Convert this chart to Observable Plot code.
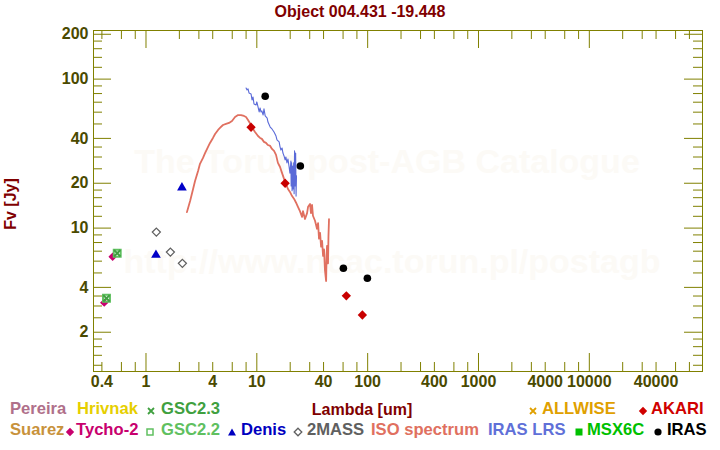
<!DOCTYPE html>
<html><head><meta charset="utf-8">
<script src="https://cdn.jsdelivr.net/npm/d3@7"></script>
<script src="https://cdn.jsdelivr.net/npm/@observablehq/plot@0.6"></script>
<style>
body{margin:0;background:#fff;font-family:"Liberation Sans",Arial,sans-serif;}
#wrap{position:relative;width:720px;height:450px;overflow:hidden;background:#fff}
#title{height:24px;line-height:24px;text-align:center;font-weight:bold;font-size:16px;color:#800000}
.lg{position:absolute;font-weight:bold;font-size:16.6px;white-space:nowrap;line-height:20px}
.ls{position:absolute;width:10px;height:10px}
</style></head><body>
<div id="wrap"><div id="title">Object 004.431 -19.448</div><div id="chart"></div><div id="legend"></div></div>
<script>
// ---- data (wavelength in um, flux in Jy) ----
const isoLambda = [2.34,2.50,2.66,2.77,2.95,3.07,3.27,3.41,3.63,3.78,4.02,4.20,4.47,4.65,4.95,5.27,5.61,5.97,6.36,6.77,7.20,7.66,7.99,8.33,8.87,9.24,9.63,10.25,10.7,11.1,11.6,12.1,12.6,13.2,13.7,14.3,14.9,15.5,16.2,16.9,17.6,18.3,19.1,19.9,20.8,21.7,22.6,23.5,24.5,25.6,26.1,27.2,28.4,29.0,30.2,30.8,31.5,32.1,33.5,34.9,35.7,36.4,37.2,38.0,38.8,39.6,40.4,41.2,42.2,42.6,43.0,43.9,44.3,44.8];
const isoFlux = [12.8,15.2,18.3,20.7,24.2,27.0,29.6,31.9,35.1,37.3,40.3,42.8,45.6,47.0,49.2,50.0,50.8,52.4,55.7,57.4,57.4,56.6,55.7,53.2,49.2,46.3,44.2,41.5,40.3,39.7,37.9,37.3,36.1,35.6,34.0,33.0,31.0,27.4,25.7,23.4,21.4,19.8,18.3,17.5,16.4,15.7,14.8,13.9,13.0,11.9,13.0,11.5,12.6,13.9,14.5,12.6,14.3,12.1,11.2,9.9,10.8,8.5,9.3,7.5,8.2,6.5,7.2,5.2,4.4,6.5,7.6,5.8,8.8,11.5];
const lrsLambda = [8.0,8.16,8.33,8.5,8.87,9.05,9.24,9.43,9.84,10.0,10.25,10.5,10.7,10.9,11.1,11.4,11.6,11.9,12.4,12.6,13.2,13.7,14.3,14.9,15.2,15.9,16.2,16.5,16.9,17.2,17.6,18.0,18.3,18.7,19.1,19.5,19.9,20.3,20.4,20.6,20.8,21.0,21.2,21.5,21.7,21.9,22.1,22.4,22.6,22.8];
const lrsFlux = [87.2,84.6,85.9,80.7,79.5,72.4,75.9,68.1,67.1,70.3,65.1,60.2,64.0,60.2,61.1,57.4,63.1,56.6,54.8,51.5,47.7,46.3,44.2,41.5,39.1,37.9,35.1,33.4,34.5,31.9,30.5,28.7,30.0,27.4,29.1,26.1,23.4,28.2,19.2,27.4,17.8,26.1,18.3,27.4,17.0,33.0,19.2,31.9,16.4,22.4];
const tychoLambda = [0.42,0.50], tychoFlux = [3.16,6.43];
const gsc22Lambda = [0.44,0.55], gsc22Flux = [3.38,6.78];
const gsc23Lambda = [0.44,0.55], gsc23Flux = [3.38,6.78];
const denisLambda = [1.23,2.11], denisFlux = [6.6,18.7];
const twomassLambda = [1.24,1.66,2.13], twomassFlux = [9.4,6.9,5.8];
const akariLambda = [8.87,18.0,64.2,89.6], akariFlux = [47.5,20.0,3.51,2.61];
const irasLambda = [11.9,24.7,60.4,99.4], irasFlux = [76.8,26.1,5.38,4.61];

// ---- tick values ----
const xLabelTicks = [0.4,1,4,10,40,100,400,1000,4000,10000,40000];
const xLongTicks = [1,10,100,1000,10000];
const xShortTicks = [0.4,0.6,0.8,2,3,4,6,8,20,30,40,60,80,200,300,400,600,800,2000,3000,4000,6000,8000,20000,30000,40000,60000,80000];
const yLabelTicks = [2,4,10,20,40,100,200];
const yShortTicks = [1.2,1.4,1.6,1.8,2.5,3,3.5,5,6,7,8,9,12,14,16,18,25,30,35,50,60,70,80,90,120,140,160,180];

const zip = (xs, ys) => xs.map((x, i) => ({x, y: ys[i]}));
const OLIVE = "#808000", LAB = "#4a4a00", FONT = '"Liberation Sans", Arial, sans-serif';
const FH = 341, FW = 609; // frame height / width in px
const SHORT = 9, LONG = 18;

const plot = Plot.plot({
  width: 720, height: 426,
  marginLeft: 93, marginRight: 18, marginTop: 6, marginBottom: 79,
  style: {fontFamily: FONT, fontSize: "16px", fontWeight: "bold", background: "white", overflow: "visible"},
  x: {type: "log", domain: [0.336, 105000], axis: null},
  y: {type: "log", domain: [1.09, 212], axis: null},
  marks: [
    Plot.text(["The Torun post-AGB Catalogue"], {text: d => d, frameAnchor: "top", lineAnchor: "middle", textAnchor: "middle", dx: -11, dy: 132, fontSize: 34, fontWeight: "bold", fill: "#fcfaf6"}),
    Plot.text(["http://www.ncac.torun.pl/postagb"], {text: d => d, frameAnchor: "top", lineAnchor: "middle", textAnchor: "middle", dx: -6, dy: 232, fontSize: 34, fontWeight: "bold", fill: "#fcfaf6"}),
    Plot.frame({stroke: OLIVE}),
    // ticks (inward, on all four sides)
    Plot.ruleX(xLongTicks, {x: d => d, insetTop: FH - LONG, stroke: OLIVE}),
    Plot.ruleX(xShortTicks, {x: d => d, insetTop: FH - SHORT, stroke: OLIVE}),
    Plot.ruleX(xLongTicks, {x: d => d, insetBottom: FH - LONG, stroke: OLIVE}),
    Plot.ruleX(xShortTicks, {x: d => d, insetBottom: FH - SHORT, stroke: OLIVE}),
    Plot.ruleY(yLabelTicks, {y: d => d, insetRight: FW - LONG, stroke: OLIVE}),
    Plot.ruleY(yShortTicks, {y: d => d, insetRight: FW - SHORT, stroke: OLIVE}),
    Plot.ruleY(yLabelTicks, {y: d => d, insetLeft: FW - LONG, stroke: OLIVE}),
    Plot.ruleY(yShortTicks, {y: d => d, insetLeft: FW - SHORT, stroke: OLIVE}),
    // tick labels
    Plot.text(xLabelTicks, {x: d => d, text: d => String(d), frameAnchor: "bottom", lineAnchor: "top", textAnchor: "middle", dy: 4, fill: LAB, fontSize: 16, fontWeight: "bold"}),
    Plot.text(yLabelTicks, {y: d => d, text: d => String(d), frameAnchor: "left", lineAnchor: "middle", textAnchor: "end", dx: -5, fill: LAB, fontSize: 16, fontWeight: "bold"}),
    // axis titles
    Plot.text(["Lambda [um]"], {text: d => d, frameAnchor: "bottom", lineAnchor: "middle", textAnchor: "middle", dx: -36, dy: 38, fill: "#800000", fontSize: 16, fontWeight: "bold"}),
    Plot.text(["Fv [Jy]"], {text: d => d, frameAnchor: "left", lineAnchor: "middle", textAnchor: "middle", dx: -83, dy: 3, rotate: -90, fill: "#800000", fontSize: 16, fontWeight: "bold"}),
    // data
    Plot.line(zip(isoLambda, isoFlux), {x: "x", y: "y", stroke: "#e07060", strokeWidth: 1.8}),
    Plot.line(zip(lrsLambda, lrsFlux), {x: "x", y: "y", stroke: "#5a6ad8", strokeWidth: 1.1}),
    Plot.dot(zip(tychoLambda, tychoFlux), {x: "x", y: "y", symbol: "diamond2", r: 3.8, fill: "#c8006e"}),
    Plot.dot(zip(gsc22Lambda, gsc22Flux), {x: "x", y: "y", symbol: "square", r: 3.9, fill: "none", stroke: "#60c060", strokeWidth: 2}),
    Plot.dot(zip(gsc23Lambda, gsc23Flux), {x: "x", y: "y", symbol: "times", r: 3, stroke: "#40a040", strokeWidth: 2}),
    Plot.dot(zip(denisLambda, denisFlux), {x: "x", y: "y", symbol: "triangle", r: 3.6, fill: "#0000c8"}),
    Plot.dot(zip(twomassLambda, twomassFlux), {x: "x", y: "y", symbol: "diamond2", r: 3.6, fill: "white", stroke: "#606060", strokeWidth: 1.3}),
    Plot.dot(zip(akariLambda, akariFlux), {x: "x", y: "y", symbol: "diamond2", r: 4.2, fill: "#c80000"}),
    Plot.dot(zip(irasLambda, irasFlux), {x: "x", y: "y", symbol: "circle", r: 3.8, fill: "black"})
  ]
});
document.getElementById("chart").appendChild(plot);

// ---- legend ----
const legendNames  = ["Pereira","Hrivnak","GSC2.3","ALLWISE","AKARI","Suarez","Tycho-2","GSC2.2","Denis","2MASS","ISO spectrum","IRAS LRS","MSX6C","IRAS"];
const legendColors = ["#b0708a","#e6cf00","#40a040","#e0a000","#d00000","#c8923c","#c8006e","#60c060","#0000c0","#606060","#e07060","#6070d8","#00c000","#000000"];
const legendSymbols = [null,null,"times","times","diamond",null,"diamond","square-open","triangle","diamond-open",null,null,"square","circle"];
const legendRow = [0,0,0,0,0,1,1,1,1,1,1,1,1,1];
const legendTextLeft = [10,77,161,542,651,10,76,161,241,307,371,488,587,667];
const legendSymCenter = [null,null,150.5,532.5,642.5,null,70,150,231.5,297.5,null,null,579,657.5];
const rowY = [409, 430];
function symSvg(kind, c) {
  const s = {
    "times": `<path d="M2,2L8,8M8,2L2,8" stroke="${c}" stroke-width="1.8" fill="none"/>`,
    "diamond": `<path d="M5,0.8L9.2,5L5,9.2L0.8,5Z" fill="${c}"/>`,
    "diamond-open": `<path d="M5,1.2L8.8,5L5,8.8L1.2,5Z" fill="none" stroke="${c}" stroke-width="1.3"/>`,
    "square-open": `<rect x="2" y="2" width="6" height="6" fill="none" stroke="${c}" stroke-width="1.5"/>`,
    "square": `<rect x="1.5" y="1.5" width="7" height="7" fill="${c}"/>`,
    "triangle": `<path d="M5,1.5L9,8.5H1Z" fill="${c}"/>`,
    "circle": `<circle cx="5" cy="5" r="3.6" fill="${c}"/>`
  }[kind];
  return `<svg width="10" height="10" viewBox="0 0 10 10">${s}</svg>`;
}
const lg = document.getElementById("legend");
legendNames.forEach((n, i) => {
  const cy = rowY[legendRow[i]];
  const t = document.createElement("div");
  t.className = "lg"; t.textContent = n; t.style.color = legendColors[i];
  t.style.left = legendTextLeft[i] + "px"; t.style.top = (cy - 10) + "px";
  lg.appendChild(t);
  if (legendSymbols[i]) {
    const s = document.createElement("div");
    s.className = "ls"; s.innerHTML = symSvg(legendSymbols[i], legendColors[i]);
    s.style.left = (legendSymCenter[i] - 5) + "px"; s.style.top = (cy - 7) + "px";
    lg.appendChild(s);
  }
});
</script>
</body></html>
